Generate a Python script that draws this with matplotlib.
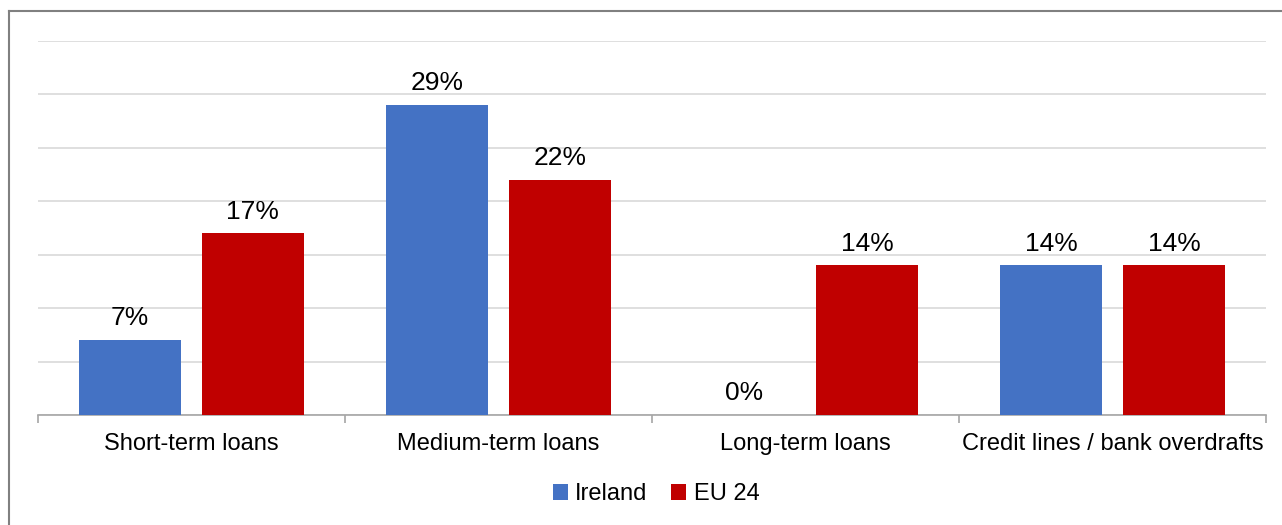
import matplotlib.pyplot as plt
from matplotlib.lines import Line2D
import numpy as np

plt.rcParams['font.family'] = ['Liberation Sans', 'DejaVu Sans']

categories = ['Short-term loans', 'Medium-term loans', 'Long-term loans',
              'Credit lines / bank overdrafts']
ireland = [7, 29, 0, 14]
eu24 = [17, 22, 14, 14]
series_names = ['Ireland', 'EU 24']
colors = ['#4472C4', '#C00000']

fig = plt.figure(figsize=(12.82, 5.25), dpi=100)
ax = fig.add_axes([38 / 1282, 1 - 415 / 525, (1266 - 38) / 1282, (415 - 41) / 525])

x = np.arange(len(categories))
width = 0.332
offset = 0.2
for vals, off, col, name in [(ireland, -offset, colors[0], series_names[0]),
                             (eu24, offset, colors[1], series_names[1])]:
    bars = ax.bar(x + off, vals, width, color=col, label=name, zorder=3)
    for b, v in zip(bars, vals):
        ax.annotate('{}%'.format(v), (b.get_x() + b.get_width() / 2, v),
                    xytext=(0, 7), textcoords='offset points',
                    ha='center', va='bottom', fontsize=19)

ax.set_xlim(-0.5, len(categories) - 0.5)
ax.set_ylim(0, 35)
ax.set_yticks(np.arange(0, 36, 5))
ax.set_yticklabels([])
ax.tick_params(axis='y', length=0)
ax.grid(axis='y', color='#D9D9D9', linewidth=1.2, zorder=0)

# category labels at centres, tick marks at boundaries
ax.set_xticks(np.arange(-0.5, len(categories), 1))
ax.set_xticklabels([])
ax.set_xticks(x, minor=True)
ax.set_xticklabels(categories, minor=True, fontsize=17)
ax.tick_params(axis='x', which='major', length=6, color='#A6A6A6', width=1.2)
ax.tick_params(axis='x', which='minor', length=0, pad=13)

for s in ['top', 'right', 'left']:
    ax.spines[s].set_visible(False)
ax.spines['bottom'].set_color('#A6A6A6')
ax.spines['bottom'].set_linewidth(1.2)

leg = fig.legend(loc='center', bbox_to_anchor=(656 / 1282, 1 - 494 / 525), ncol=2,
                 frameon=False, fontsize=17, handlelength=0.65, handleheight=0.65,
                 handletextpad=0.3, columnspacing=1.0)

# outer chart border (left and top only visible)
fig.add_artist(Line2D([9 / 1282, 9 / 1282], [0, 1 - 11 / 525],
                      transform=fig.transFigure, color='#808080', linewidth=1.5))
fig.add_artist(Line2D([9 / 1282, 1], [1 - 11 / 525, 1 - 11 / 525],
                      transform=fig.transFigure, color='#808080', linewidth=1.5))

fig.savefig('out.png', dpi=100)
